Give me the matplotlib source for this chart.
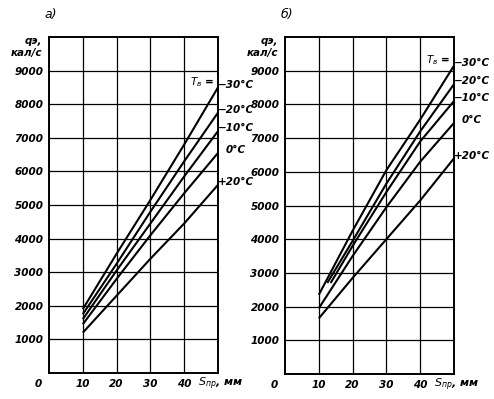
import matplotlib
matplotlib.use("Agg")
import matplotlib.pyplot as plt

# === Dados ===
TEMPS = ["−30°C", "−20°C", "−10°C", "0°C", "+20°C"]

# painel a)
A_X = [
    [10, 20, 30, 40, 50],
    [10, 20, 30, 40, 50],
    [10, 20, 30, 40, 50],
    [10, 20, 30, 40, 50],
    [10, 20, 30, 40, 50],
]
A_Y = [
    [1900, 3550, 5150, 6800, 8500],
    [1750, 3250, 4800, 6300, 7750],
    [1600, 3050, 4450, 5850, 7200],
    [1450, 2800, 4100, 5350, 6550],
    [1200, 2300, 3400, 4450, 5600],
]

# painel б)
B_X = [
    [10, 20, 30, 40, 50],
    [12.5, 20, 30, 40, 50],
    [13.5, 20, 30, 40, 50],
    [10, 20, 30, 40, 50],
    [10, 20, 30, 40, 50],
]
B_Y = [
    [2350, 4250, 6050, 7550, 9150],
    [2700, 3950, 5650, 7200, 8600],
    [2700, 3800, 5400, 6900, 8100],
    [1950, 3500, 4950, 6300, 7450],
    [1650, 2850, 4000, 5150, 6400],
]

X_TICKS = [10, 20, 30, 40]
Y_TICKS = [1000, 2000, 3000, 4000, 5000, 6000, 7000, 8000, 9000]
PANELS = ["а)", "б)"]

# === Estilo ===
FONT = dict(fontstyle="italic", fontweight="bold", fontsize=7.5)
plt.rcParams["font.family"] = "DejaVu Sans"
plt.rcParams["mathtext.fontset"] = "dejavusans"

fig = plt.figure(figsize=(4.94, 3.99), dpi=100)
ax_a = fig.add_axes([49 / 494, 26 / 399, 169 / 494, 336 / 399])
ax_b = fig.add_axes([285 / 494, 25 / 399, 169 / 494, 337 / 399])


def draw_panel(ax, xs, ys, panel):
    for x, y in zip(xs, ys):
        ax.plot(x, y, color="black", lw=1.5, solid_capstyle="butt")

    ax.set_xlim(0, 50)
    ax.set_ylim(0, 10000)
    ax.set_xticks(X_TICKS)
    ax.set_xticklabels([str(t) for t in X_TICKS], **FONT)
    ax.set_yticks(Y_TICKS)
    ax.set_yticklabels([str(t) for t in Y_TICKS], **FONT)
    ax.tick_params(length=0, pad=4)
    ax.grid(True, color="black", lw=0.9)
    for s in ax.spines.values():
        s.set_linewidth(1.4)
        s.set_color("black")

    # "0" na origem
    ax.annotate("0", (0, 0), xytext=(-8, -8), textcoords="offset points",
                ha="center", va="center", annotation_clip=False, **FONT)
    # rótulo do eixo x
    ax.annotate("$S_{пр}$, мм", (50, 0), xytext=(2, -8), textcoords="offset points",
                ha="center", va="center", annotation_clip=False,
                fontstyle="italic", fontweight="bold", fontsize=8)
    # rótulo do eixo y
    ax.annotate("qэ,\nкал/с", (0, 10000), xytext=(-5, -7), textcoords="offset points",
                ha="right", va="center", annotation_clip=False, linespacing=1.3, **FONT)
    # letra do painel
    ax.annotate(panel, (0, 10000), xytext=(-3, 16), textcoords="offset points",
                ha="left", va="center", annotation_clip=False,
                fontsize=9, fontstyle="italic")

    # rótulos das curvas
    for t, x, y in zip(TEMPS, xs, ys):
        ax.annotate(t, (x[-1], y[-1]), xytext=(13, 2), textcoords="offset points",
                    ha="center", va="center", annotation_clip=False, **FONT)
    ax.annotate("$T_в$ =", (xs[0][-1], ys[0][-1]), xytext=(-3, 4),
                textcoords="offset points", ha="right", va="center",
                annotation_clip=False, **FONT)


draw_panel(ax_a, A_X, A_Y, PANELS[0])
draw_panel(ax_b, B_X, B_Y, PANELS[1])

fig.savefig("out.png", dpi=100, facecolor="white")
